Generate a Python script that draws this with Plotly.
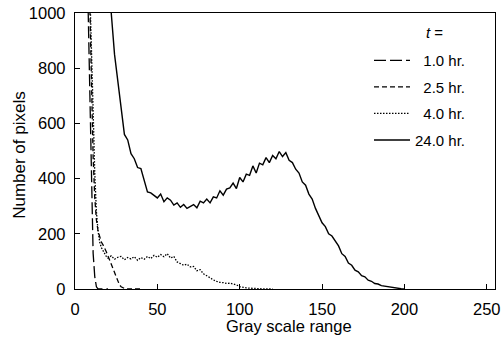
import plotly.graph_objects as go

# ---- data ----
x_1h = [7, 8, 9, 10, 11, 12, 13, 14, 15, 20]
y_1h = [1300, 1000, 630, 300, 130, 45, 8, 0, 0, 0]

x_2h = [8, 9, 10, 11, 12, 13, 14, 15, 16, 17, 18, 19, 20, 21, 22, 23, 24, 25, 26, 27, 28, 29, 30, 32, 40]
y_2h = [1300, 1000, 700, 480, 330, 250, 210, 185, 170, 160, 150, 135, 120, 105, 85, 70, 55, 38, 25, 15, 8, 4, 2, 0, 0]

x_4h = [8, 9, 10, 11, 12, 13, 14, 15, 16, 17, 18, 19, 20,
        22, 24, 26, 28, 30, 32, 34, 36, 38, 40, 42, 44, 46, 48, 50, 52, 54, 56, 58,
        60, 62, 64, 66, 68, 70, 72, 74, 76, 78, 80, 82, 84, 86, 88, 90, 92, 94, 96, 98,
        100, 102, 104, 106, 108, 110, 112, 114, 116, 120]
y_4h = [1300, 1050, 850, 650, 420, 280, 210, 170, 150, 140, 125, 118, 112,
        120, 108, 115, 118, 106, 114, 109, 117, 104, 114, 108, 118, 110, 122, 115, 125, 117, 128, 112,
        118, 98, 92, 86, 90, 80, 82, 66, 70, 55, 48, 40, 33, 28, 24, 23, 20, 21, 17, 15,
        8, 5, 4, 3, 2, 2, 1, 1, 0, 0]

x_24h = [21, 22, 24, 26, 28, 30, 32, 34, 36, 38, 40, 42, 44, 46, 48, 50, 52, 54, 56, 58,
         60, 62, 64, 66, 68, 70, 72, 74, 76, 78, 80, 82, 84, 86, 88, 90, 92, 94, 96, 98,
         100, 102, 104, 106, 108, 110, 112, 114, 116, 118, 120, 122, 124, 126, 128, 130,
         132, 134, 136, 138, 140, 142, 144, 146, 148, 150, 152, 154, 156, 158, 160, 162,
         164, 166, 168, 170, 172, 174, 176, 178, 180, 182, 184, 186, 188, 190, 192, 194,
         196, 198, 200]
y_24h = [1150, 1000, 850, 760, 670, 560, 540, 490, 472, 440, 436, 392, 352, 348, 338, 330, 344, 316, 330, 322,
         304, 312, 296, 306, 292, 300, 306, 294, 318, 312, 326, 312, 334, 330, 356, 340, 362, 366, 384, 364,
         404, 388, 416, 412, 446, 420, 456, 450, 476, 458, 484, 472, 498, 480, 494, 466,
         458, 434, 420, 388, 376, 344, 326, 292, 266, 240, 226, 200, 192, 174, 156, 128,
         118, 94, 86, 68, 62, 48, 44, 32, 28, 20, 18, 12, 10, 7, 5, 3,
         2, 1, 0]

names = ["\u20071.0 hr.", "\u20072.5 hr.", "\u20074.0 hr.", "24.0 hr."]
dashes = ["12px,4px", "5px,3px", "1.5px,1.5px", "solid"]
widths = [1.3, 1.3, 1.3, 1.4]

fig = go.Figure()
series = [(x_1h, y_1h), (x_2h, y_2h), (x_4h, y_4h), (x_24h, y_24h)]
for i, ((xs, ys), nm) in enumerate(zip(series, names)):
    fig.add_trace(go.Scatter(x=xs, y=ys, mode="lines", name=nm, legendgroup=str(i),
                             line=dict(color="black", width=widths[i], dash=dashes[i])))

font_family = "Liberation Sans, Arial, sans-serif"
fig.update_layout(
    width=504, height=337,
    margin=dict(l=75, r=9, t=13, b=48, autoexpand=False),
    paper_bgcolor="white", plot_bgcolor="white",
    font=dict(family=font_family, color="black", size=16.5),
    showlegend=True,
    legend=dict(x=0.7, y=0.887, xanchor="left", yanchor="top",
                bgcolor="rgba(0,0,0,0)", font=dict(size=15),
                tracegroupgap=4, itemwidth=36),
    annotations=[
        dict(text="<i>t</i> =", x=0.855, y=0.931, xref="paper", yref="paper",
             showarrow=False, font=dict(size=15), xanchor="center", yanchor="middle"),
        dict(text="Gray scale range", x=0.51, y=-0.1739, xref="paper", yref="paper",
             showarrow=False, font=dict(size=16.5), xanchor="center", yanchor="bottom"),
        dict(text="Number of pixels", x=-0.131, y=0.486, xref="paper", yref="paper",
             showarrow=False, font=dict(size=17), xanchor="center", yanchor="middle",
             textangle=-90),
    ],
    xaxis=dict(range=[0, 255], tickvals=[0, 50, 100, 150, 200, 250],
               ticks="inside", ticklen=5, tickwidth=1, tickcolor="black",
               showline=True, linecolor="black", linewidth=1.3, mirror=True,
               showgrid=False, zeroline=False, ticklabelstandoff=5, automargin=False,
               tickfont=dict(size=16.5)),
    yaxis=dict(range=[0, 1000], tickvals=[0, 200, 400, 600, 800, 1000],
               ticks="inside", ticklen=5, tickwidth=1, tickcolor="black",
               showline=True, linecolor="black", linewidth=1.3, mirror=True,
               showgrid=False, zeroline=False, ticklabelstandoff=5, automargin=False,
               tickfont=dict(size=16.5)),
)

fig.write_html("out.html")
